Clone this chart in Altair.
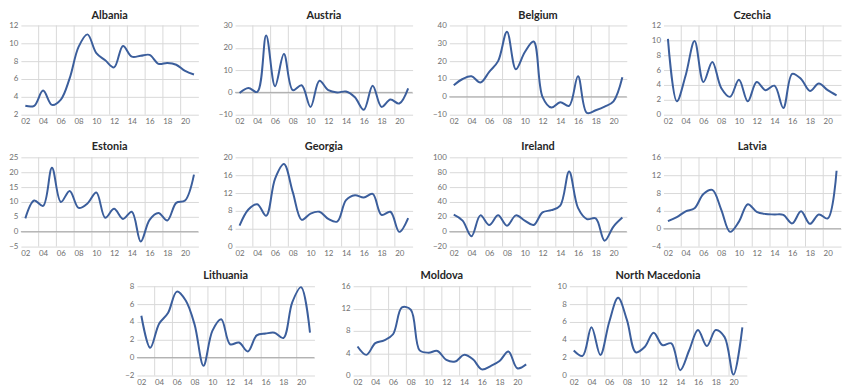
import altair as alt
import pandas as pd

# ---- data ----
years = list(range(2002, 2022))
label_years = list(range(2002, 2021, 2))
grid_years = [2003.5, 2005.5, 2007.5, 2009.5, 2011.5, 2013.5, 2015.5, 2017.5, 2019.5]

albania = [3.0, 3.0, 4.7, 3.1, 3.7, 6.1, 9.6, 11.0, 8.9, 8.1, 7.3, 9.7, 8.5, 8.6, 8.7, 7.7, 7.8, 7.6, 6.9, 6.5]
austria = [-0.3, 2.0, 0.2, 25.5, 2.8, 17.2, 1.0, 3.2, -6.5, 5.2, 1.0, 0.0, 0.4, -2.2, -7.8, 3.0, -6.5, -3.2, -5.0, 1.8]
belgium = [6.5, 10.0, 11.5, 8.0, 14.0, 20.0, 36.5, 15.5, 25.0, 31.0, 0.0, -6.0, -3.0, -5.0, 11.5, -9.0, -7.5, -5.5, -2.5, 11.0]
czechia = [10.2, 1.8, 5.3, 9.9, 4.4, 7.1, 3.6, 2.4, 4.7, 1.8, 4.4, 3.3, 3.9, 0.9, 5.5, 4.8, 3.2, 4.2, 3.3, 2.6]
estonia = [4.5, 10.5, 8.7, 21.5, 10.0, 13.7, 8.0, 9.5, 13.2, 4.7, 7.7, 4.3, 6.7, -3.3, 4.0, 6.3, 3.8, 9.7, 10.5, 19.2]
georgia = [4.7, 8.3, 9.5, 6.9, 15.2, 18.5, 12.2, 6.0, 7.4, 7.8, 6.2, 5.6, 10.4, 11.5, 11.0, 11.8, 7.1, 7.8, 3.3, 6.4]
ireland = [23, 15, -6, 22, 9, 22, 8, 22, 15, 9, 26, 29, 35, 81, 32, 17, 18, -12, 7, 19]
latvia = [1.7, 2.6, 3.9, 4.6, 7.8, 8.7, 4.3, -0.7, 1.6, 5.5, 3.8, 3.3, 3.2, 3.1, 1.2, 3.9, 1.1, 3.2, 2.3, 13.0]
lithuania = [4.7, 1.1, 3.8, 5.0, 7.4, 6.4, 3.7, -0.9, 3.0, 4.3, 1.5, 1.7, 0.7, 2.5, 2.7, 2.8, 2.2, 6.2, 7.9, 2.8]
moldova = [5.2, 3.7, 5.8, 6.3, 7.4, 12.2, 11.8, 4.5, 4.1, 4.4, 2.8, 2.5, 3.7, 2.9, 1.1, 1.7, 2.6, 4.3, 1.3, 2.0]
north_macedonia = [2.8, 2.2, 5.4, 2.3, 6.0, 8.7, 6.2, 2.6, 3.2, 4.8, 3.4, 3.6, 0.6, 2.8, 5.1, 3.3, 5.1, 4.3, 0.1, 5.4]

# (name, values, y min, y max, y step)
panels_row1 = [("Albania", albania, 2, 12, 2), ("Austria", austria, -10, 30, 10),
               ("Belgium", belgium, -10, 40, 10), ("Czechia", czechia, 0, 12, 2)]
panels_row2 = [("Estonia", estonia, -5, 25, 5), ("Georgia", georgia, 0, 20, 4),
               ("Ireland", ireland, -20, 100, 20), ("Latvia", latvia, -4, 16, 4)]
panels_row3 = [("Lithuania", lithuania, -2, 8, 2), ("Moldova", moldova, 0, 16, 4),
               ("North Macedonia", north_macedonia, 0, 10, 2)]

W, H = 179, 90
FONT = "Lato"
LINE_COLOR = "#3b5e9c"
GRID = "#d9d9d9"
LABEL = "#6f6f6f"


def panel(name, vals, ymin, ymax, step):
    yticks = list(range(ymin, ymax + 1, step))
    xscale = alt.Scale(domain=[2001.5, 2021.5], nice=False, zero=False)
    yscale = alt.Scale(domain=[ymin, ymax], nice=False, zero=False)
    xaxis = alt.Axis(values=label_years, labelExpr="substring(toString(datum.value), 2, 4)",
                     grid=False, ticks=False, domain=False, title=None,
                     labelFontSize=8, labelColor=LABEL, labelFont=FONT, labelPadding=3)
    yaxis = alt.Axis(values=yticks, grid=True, gridColor=GRID, gridWidth=1, ticks=False,
                     domain=False, title=None, labelFontSize=8, labelColor=LABEL,
                     labelFont=FONT, labelPadding=3)
    df = pd.DataFrame({"year": years, "value": vals})
    line = alt.Chart(df).mark_line(interpolate="catmull-rom", color=LINE_COLOR, strokeWidth=2).encode(
        x=alt.X("year:Q", scale=xscale, axis=xaxis),
        y=alt.Y("value:Q", scale=yscale, axis=yaxis),
    )
    vgrid = alt.Chart(pd.DataFrame({"g": grid_years})).mark_rule(color=GRID, strokeWidth=1).encode(
        x=alt.X("g:Q", scale=xscale, axis=xaxis)
    )
    layers = [vgrid]
    if ymin < 0:
        zero = alt.Chart(pd.DataFrame({"z": [0]})).mark_rule(color="#a6a6a6", strokeWidth=1).encode(
            y=alt.Y("z:Q", scale=yscale, axis=yaxis)
        )
        layers.append(zero)
    layers.append(line)
    return alt.layer(*layers).properties(
        width=W, height=H,
        title=alt.TitleParams(name, fontSize=11, font=FONT, fontWeight="bold", color="#262626",
                              offset=1, anchor="middle"),
    )


row1 = alt.hconcat(*[panel(*p) for p in panels_row1], spacing=37, bounds="flush")
row2 = alt.hconcat(*[panel(*p) for p in panels_row2], spacing=37, bounds="flush")
spacer = alt.Chart(pd.DataFrame({"a": [0]})).mark_point(opacity=0).encode(
    x=alt.X("a:Q", axis=None), y=alt.Y("a:Q", axis=None)
).properties(width=78, height=H)
row3 = alt.hconcat(spacer, *[panel(*p) for p in panels_row3], spacing=39, bounds="flush")

top = alt.vconcat(row1, row2, spacing=16)
chart = alt.vconcat(top, row3, spacing=13).properties(
    padding={"left": 0, "top": 0, "right": 0, "bottom": 0},
    background="white",
).configure_view(stroke=None)

chart.save("out.html", embed_options={"renderer": "svg", "actions": False})
